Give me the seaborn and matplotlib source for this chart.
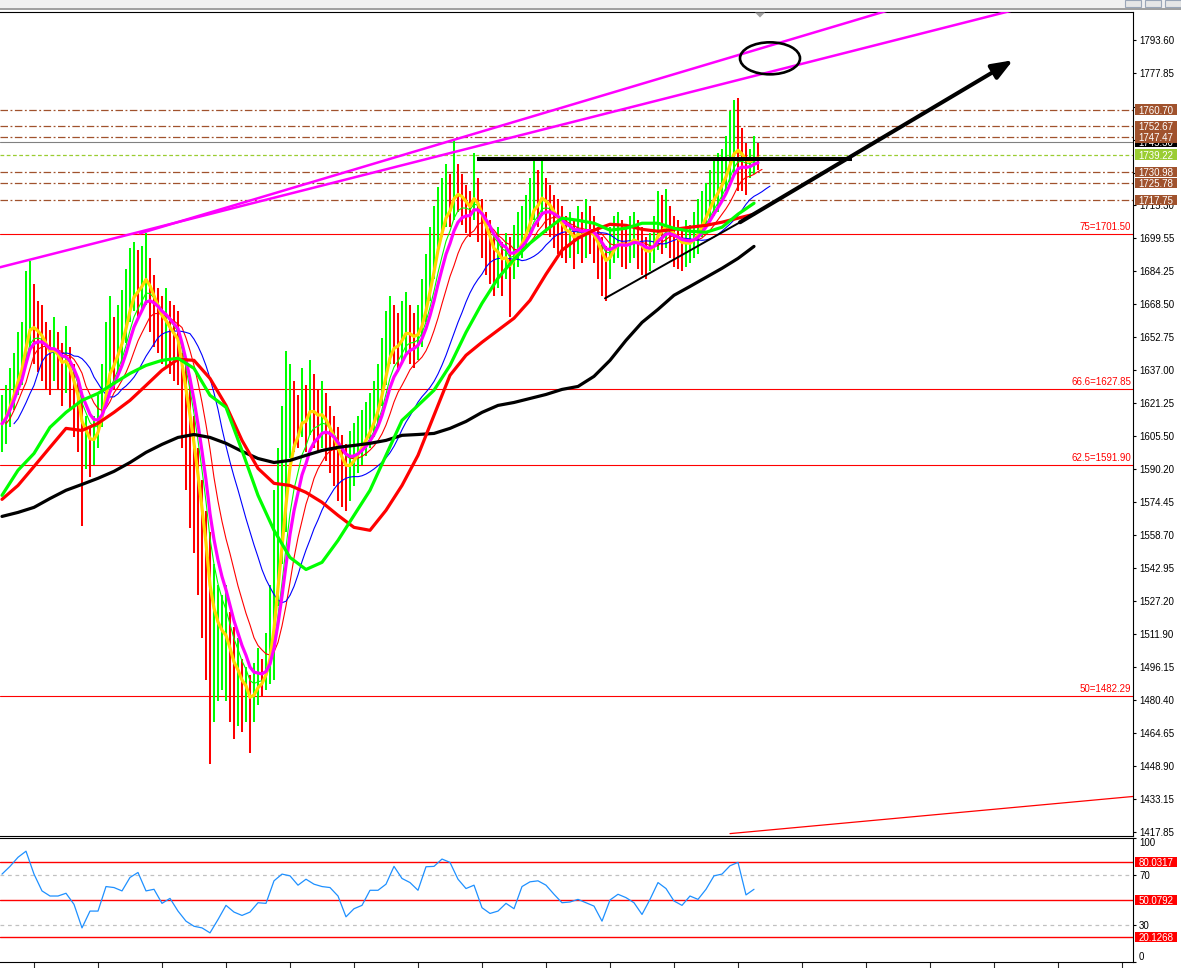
import numpy as np
import pandas as pd
import matplotlib
matplotlib.use("Agg")
import matplotlib.pyplot as plt
import matplotlib.transforms as mtransforms
from matplotlib.patches import Rectangle, Ellipse, Polygon
import seaborn as sns

# ---- price bars (one per bar index, high / low) ----
highs = [
    1625, 1630, 1638, 1645, 1655, 1660, 1684, 1689, 1678, 1670,
    1668, 1660, 1656, 1662, 1655, 1650, 1658, 1648, 1640, 1632,
    1625, 1615, 1610, 1615, 1625, 1640, 1660, 1672, 1662, 1668,
    1675, 1685, 1695, 1698, 1694, 1696, 1702, 1690, 1682, 1676,
    1672, 1676, 1670, 1668, 1665, 1645, 1640, 1632, 1615, 1600,
    1585, 1570, 1560, 1545, 1535, 1530, 1535, 1522, 1515, 1510,
    1500, 1496, 1492, 1498, 1505, 1500, 1512, 1535, 1580, 1600,
    1620, 1646, 1640, 1632, 1625, 1638, 1630, 1642, 1635, 1628,
    1632, 1626, 1620, 1615, 1610, 1606, 1602, 1608, 1612, 1615,
    1618, 1622, 1626, 1632, 1640, 1652, 1665, 1672, 1668, 1664,
    1670, 1674, 1668, 1664, 1668, 1680, 1692, 1705, 1715, 1724,
    1728, 1735, 1730, 1746, 1735, 1730, 1725, 1722, 1740, 1728,
    1718, 1712, 1708, 1700, 1705, 1698, 1702, 1700, 1706, 1712,
    1715, 1720, 1728, 1737, 1732, 1738, 1728, 1725, 1720, 1718,
    1715, 1710, 1712, 1708, 1715, 1712, 1718, 1715, 1710, 1705,
    1700, 1696, 1705, 1710, 1712, 1708, 1705, 1710, 1712, 1708,
    1705, 1700, 1702, 1710, 1722, 1720, 1723, 1715, 1710, 1708,
    1705, 1708, 1706, 1712, 1718, 1722, 1726, 1732, 1738, 1740,
    1742, 1748, 1760, 1765, 1766, 1752, 1745, 1742, 1748, 1745,
]
lows = [
    1598, 1602, 1610, 1618, 1625, 1630, 1640, 1648, 1640, 1636,
    1632, 1628, 1625, 1632, 1628, 1620, 1626, 1618, 1605, 1598,
    1563, 1590, 1586, 1592, 1600, 1610, 1620, 1630, 1628, 1635,
    1640, 1650, 1660, 1665, 1662, 1665, 1668, 1655, 1648, 1645,
    1640, 1638, 1635, 1632, 1630, 1600, 1580, 1562, 1550, 1530,
    1510, 1490, 1450, 1470, 1480, 1485, 1480, 1470, 1462, 1468,
    1465, 1470, 1455, 1470, 1478, 1482, 1485, 1488, 1490, 1525,
    1545, 1560, 1595, 1598, 1600, 1605, 1598, 1606, 1600, 1598,
    1600, 1594, 1588, 1582, 1575, 1572, 1570, 1575, 1582, 1588,
    1592, 1596, 1600, 1605, 1612, 1620, 1630, 1640, 1640, 1636,
    1640, 1645, 1640, 1638, 1642, 1648, 1660, 1670, 1680, 1695,
    1700, 1705, 1705, 1708, 1712, 1706, 1702, 1700, 1708, 1698,
    1690, 1682, 1678, 1672, 1676, 1672, 1680, 1662, 1680, 1686,
    1690, 1695, 1700, 1708, 1705, 1710, 1702, 1700, 1695, 1692,
    1690, 1688, 1690, 1685, 1692, 1688, 1690, 1692, 1688, 1680,
    1672, 1670, 1680, 1688, 1690, 1686, 1685, 1688, 1690, 1685,
    1682, 1680, 1684, 1688, 1694, 1692, 1695, 1690, 1686, 1685,
    1684, 1686, 1688, 1690, 1692, 1700, 1705, 1708, 1710, 1712,
    1718, 1722, 1725, 1730, 1722, 1722, 1720, 1728, 1730, 1732,
]

# ---- slow moving averages, read every 4 bars ----
slow_x = list(range(0, 190, 4))
ma_green_slow = [
    1577.5, 1589.4, 1597.4, 1609.8, 1616.9, 1622.6, 1625.9, 1630.7, 1635.4, 1639.2,
    1641.6, 1642.6, 1637.8, 1625.0, 1619.3, 1598.8, 1577.5, 1560.9, 1548.0, 1542.3,
    1545.7, 1556.1, 1568.0, 1579.9, 1596.5, 1613.1, 1620.2, 1627.4, 1639.2, 1654.9,
    1668.7, 1680.6, 1689.6, 1697.2, 1703.4, 1709.1, 1708.1, 1706.7, 1703.4, 1704.3,
    1706.7, 1706.7, 1704.3, 1702.9, 1702.4, 1704.8, 1711.0, 1716.2,
]
ma_red_slow = [
    1575.6, 1582.2, 1591.2, 1600.3, 1609.3, 1608.3, 1611.7, 1616.9, 1622.6, 1629.7,
    1636.9, 1642.1, 1641.6, 1633.0, 1620.2, 1603.6, 1590.3, 1583.2, 1582.2, 1578.9,
    1574.2, 1568.0, 1562.3, 1560.9, 1570.4, 1582.2, 1596.5, 1615.5, 1634.5, 1644.0,
    1650.2, 1655.9, 1661.6, 1670.1, 1682.5, 1693.9, 1699.6, 1703.4, 1706.2, 1705.7,
    1703.8, 1702.9, 1703.8, 1704.8, 1705.7, 1707.2, 1709.1, 1711.0,
]
ma_black = [
    1567.5, 1569.4, 1571.8, 1576.0, 1579.9, 1582.7, 1585.6, 1588.9, 1593.1, 1597.9,
    1601.7, 1605.0, 1606.4, 1605.0, 1602.2, 1598.4, 1595.0, 1593.1, 1594.1, 1596.5,
    1598.8, 1600.3, 1601.2, 1602.2, 1603.6, 1606.0, 1606.4, 1606.9, 1609.3, 1612.6,
    1616.9, 1620.2, 1621.6, 1623.5, 1625.4, 1627.8, 1629.2, 1634.0, 1641.6, 1651.1,
    1659.6, 1665.8, 1672.5, 1676.7, 1681.0, 1685.3, 1690.0, 1695.7,
]

# ---- RSI, read every 2 bars ----
rsi_x = list(range(0, 190, 2))
rsi = [
    70.6, 76.8, 84.1, 89.0, 70.6, 57.1, 53.0, 53.0, 55.2, 46.3,
    27.4, 40.9, 40.9, 60.6, 59.8, 57.1, 67.9, 71.9, 57.1, 58.4,
    47.1, 51.1, 40.9, 32.8, 28.7, 27.4, 23.4, 34.1, 45.5, 40.1,
    37.4, 40.1, 47.6, 47.1, 65.2, 70.6, 69.2, 61.7, 66.5, 62.5,
    60.6, 59.8, 53.0, 36.3, 42.8, 45.5, 57.6, 57.6, 62.5, 76.8,
    67.1, 63.8, 57.6, 76.5, 76.8, 82.7, 80.0, 66.5, 59.0, 61.7,
    43.6, 39.0, 40.9, 47.1, 42.8, 60.6, 64.4, 65.2, 61.7, 54.4,
    47.6, 48.2, 50.3, 47.6, 44.9, 32.8, 49.8, 54.4, 51.7, 47.6,
    38.2, 50.3, 63.8, 59.0, 49.0, 45.5, 53.0, 50.3, 58.4, 69.2,
    70.6, 77.3, 80.0, 53.9, 58.4,
]
rsi_levels = [80.0317, 50.0792, 20.1268]

# ---- levels and drawn objects ----
fib_values = [1701.50, 1627.85, 1591.90, 1482.29]
fib_labels = ["75=1701.50", "66.6=1627.85", "62.5=1591.90", "50=1482.29"]
brown_levels = [1760.70, 1752.67, 1747.47, 1730.98, 1725.78, 1717.75]
bid_level = 1745.30
green_level = 1739.22
price_ticks = [1793.60, 1777.85, 1762.10, 1746.35, 1730.60, 1715.30, 1699.55, 1684.25,
               1668.50, 1652.75, 1637.00, 1621.25, 1605.50, 1590.20, 1574.45, 1558.70,
               1542.95, 1527.20, 1511.90, 1496.15, 1480.40, 1464.65, 1448.90, 1433.15,
               1417.85]
hidden_ticks = [1762.10, 1746.35, 1730.60]  # fully under the price boxes
channel_low = ([-0.5, 260.0], [1685.8, 1811.3])
channel_high = ([34.5, 225.0], [1701.9, 1809.7])
support_thin = ([150.75, 184.5], [1671.05, 1707.15])
arrow_line = ([184.5, 252.75], [1707.15, 1784.1])
neck_line = ([118.75, 212.5], [1737.1, 1737.1])
red_trend = ([182.0, 290.0], [1416.9, 1435.8])
target_circle = (192.0, 1785.0, 15.0, 15.2)

sns.set_style("white")
plt.rcParams['font.family'] = ['Liberation Sans', 'DejaVu Sans']

W, H = 1181, 968
fig = plt.figure(figsize=(W / 100, H / 100), dpi=100)
ax = fig.add_axes([0, 1 - 835.5 / H, 1133 / W, (835.5 - 12.2) / H])
ax2 = fig.add_axes([0, 1 - 962 / H, 1133 / W, (962 - 837.5) / H])

df = pd.DataFrame({"high": highs, "low": lows})
df["bar"] = np.arange(len(df))
df["mid"] = (df["high"] + df["low"]) / 2
up = df["mid"].diff().fillna(0) >= 0
bar_colors = np.where(up, "#00FF00", "#FF0000")

# horizontal levels
for v in fib_values:
    ax.axhline(v, color="red", lw=0.8, zorder=1)
for v in brown_levels:
    ax.axhline(v, color="#A0522D", lw=0.9, linestyle=(0, (6, 2, 1.5, 2)), zorder=1)
ax.axhline(bid_level, color="#808080", lw=0.8, zorder=1)
ax.axhline(green_level, color="#9ACD32", lw=0.9, linestyle=(0, (3, 2)), zorder=1)

# bars
ax.vlines(df["bar"], df["low"], df["high"], colors=bar_colors, lw=1.45, zorder=2)

# fast moving averages from the bars
fast = [("#00FF00", 7, 0.8, 0), ("#FF0000", 13, 0.8, 1), ("#0000FF", 24, 0.8, 3),
        ("#FFD700", 4, 2.3, 0), ("#FF00FF", 9, 2.3, 0)]
for col, span, lw, shift in fast:
    ma = df["mid"].ewm(span=span).mean()
    sns.lineplot(x=df["bar"] + shift, y=ma, ax=ax, color=col, linewidth=lw,
                 estimator=None, sort=False, zorder=3)

slow = pd.DataFrame({"bar": slow_x, "green": ma_green_slow, "red": ma_red_slow,
                     "black": ma_black})
for name, col in [("black", "black"), ("red", "#FF0000"), ("green", "#00FF00")]:
    sns.lineplot(data=slow, x="bar", y=name, ax=ax, color=col, linewidth=2.3,
                 estimator=None, sort=False, zorder=3)

# drawn objects
for xs, ys in [channel_low, channel_high]:
    ax.plot(xs, ys, color="#FF00FF", lw=1.8, zorder=4)
ax.plot(*support_thin, color="black", lw=1.4, zorder=4)
ax.plot(*neck_line, color="black", lw=2.9, zorder=4, solid_capstyle="butt")
ax.plot(*red_trend, color="red", lw=0.9, zorder=4)
ax.annotate("", xy=(arrow_line[0][1], arrow_line[1][1]),
            xytext=(arrow_line[0][0], arrow_line[1][0]),
            arrowprops=dict(arrowstyle="-|>,head_length=0.9,head_width=0.35",
                            lw=2.9, color="black", shrinkA=0, shrinkB=0,
                            mutation_scale=14), zorder=4)
cx, cy, cw, ch = target_circle
ax.add_patch(Ellipse((cx, cy), cw, ch, fill=False, ec="black", lw=1.9, zorder=4))

ax.set_xlim(-0.5, 282.75)
ax.set_ylim(1416.0, 1806.9)
ax.set_xlabel("")
ax.set_ylabel("")
ax.set_xticks([])
ax.yaxis.tick_right()
ax.set_yticks(price_ticks)
ax.set_yticklabels(["" if v in hidden_ticks else f"{v:.2f}" for v in price_ticks])
ax.tick_params(axis="y", direction="out", length=2.2, width=0.8, pad=2.2,
               labelsize=7, colors="black", right=True)
for s in ["top", "right", "bottom"]:
    ax.spines[s].set_color("black")
    ax.spines[s].set_linewidth(0.8)
ax.spines["left"].set_visible(False)

tr = mtransforms.blended_transform_factory(ax.transAxes, ax.transData)
for v, lab in zip(fib_values, fib_labels):
    ax.text(1131 / 1133, v + 0.9, lab, transform=tr, ha="right", va="bottom",
            color="red", fontsize=7, zorder=4)


def price_box(axis, value, text, face, height, z=5):
    t = mtransforms.blended_transform_factory(axis.transAxes, axis.transData)
    axis.add_patch(Rectangle((1135 / 1133, value - height / 2), 42 / 1133, height,
                             transform=t, facecolor=face, edgecolor="none",
                             clip_on=False, zorder=z))
    axis.text(1156 / 1133, value, text, transform=t, ha="center", va="center_baseline",
              color="white", fontsize=7, clip_on=False, zorder=z + 0.5)


price_box(ax, bid_level, f"{bid_level:.2f}", "black", 5.0, z=4.0)
for v in brown_levels:
    price_box(ax, v, f"{v:.2f}", "#A0522D", 5.0)
price_box(ax, green_level, f"{green_level:.2f}", "#9ACD32", 5.0)

# RSI panel
for v in rsi_levels:
    ax2.axhline(v, color="red", lw=1.0, zorder=1)
for v in [70, 30]:
    ax2.axhline(v, color="#C0C0C0", lw=0.9, linestyle=(0, (3, 3)), zorder=1)
sns.lineplot(x=rsi_x, y=rsi, ax=ax2, color="#1E90FF", linewidth=0.9,
             estimator=None, sort=False, zorder=3)
ax2.set_xlim(-0.5, 282.75)
ax2.set_ylim(0, 100)
ax2.yaxis.tick_right()
ax2.set_yticks([100, 70, 30, 0])
ax2.set_yticklabels(["100", "70", "30", "0"])
ax2.tick_params(axis="y", direction="out", length=2.2, width=0.8, pad=2.2,
                labelsize=7, colors="black", right=True)
labs = ax2.get_yticklabels()
labs[0].set_va("top")
labs[-1].set_va("bottom")
ax2.set_xticks(np.arange(8, 283, 16))
ax2.set_xticklabels([])
ax2.tick_params(axis="x", direction="out", length=4.3, width=0.8, bottom=True)
for s in ["top", "right", "bottom"]:
    ax2.spines[s].set_color("black")
    ax2.spines[s].set_linewidth(0.8)
ax2.spines["left"].set_visible(False)
for v in rsi_levels:
    price_box(ax2, v, f"{v:.4f}", "#FF0000", 8.1)

# window chrome
ff = fig.transFigure
fig.patches.append(Rectangle((0, 1 - 8.3 / H), 1, 8.3 / H, transform=ff,
                             facecolor="#F0F0F0", edgecolor="none"))
fig.patches.append(Rectangle((0, 1 - 10 / H), 1, 1.6 / H, transform=ff,
                             facecolor="#A0A0A0", edgecolor="none"))
for x0 in [1125, 1145, 1165]:
    fig.patches.append(Rectangle((x0 / W, 1 - 7 / H), 16 / W, 7 / H, transform=ff,
                                 facecolor="#E6E6E6", edgecolor="#9AA6B8", lw=0.8))
fig.patches.append(Polygon([(755 / W, 1 - 12.5 / H), (765 / W, 1 - 12.5 / H),
                            (760 / W, 1 - 17.5 / H)], closed=True, transform=ff,
                           facecolor="#A0A0A0", edgecolor="none"))

fig.savefig("out.png", dpi=100)
